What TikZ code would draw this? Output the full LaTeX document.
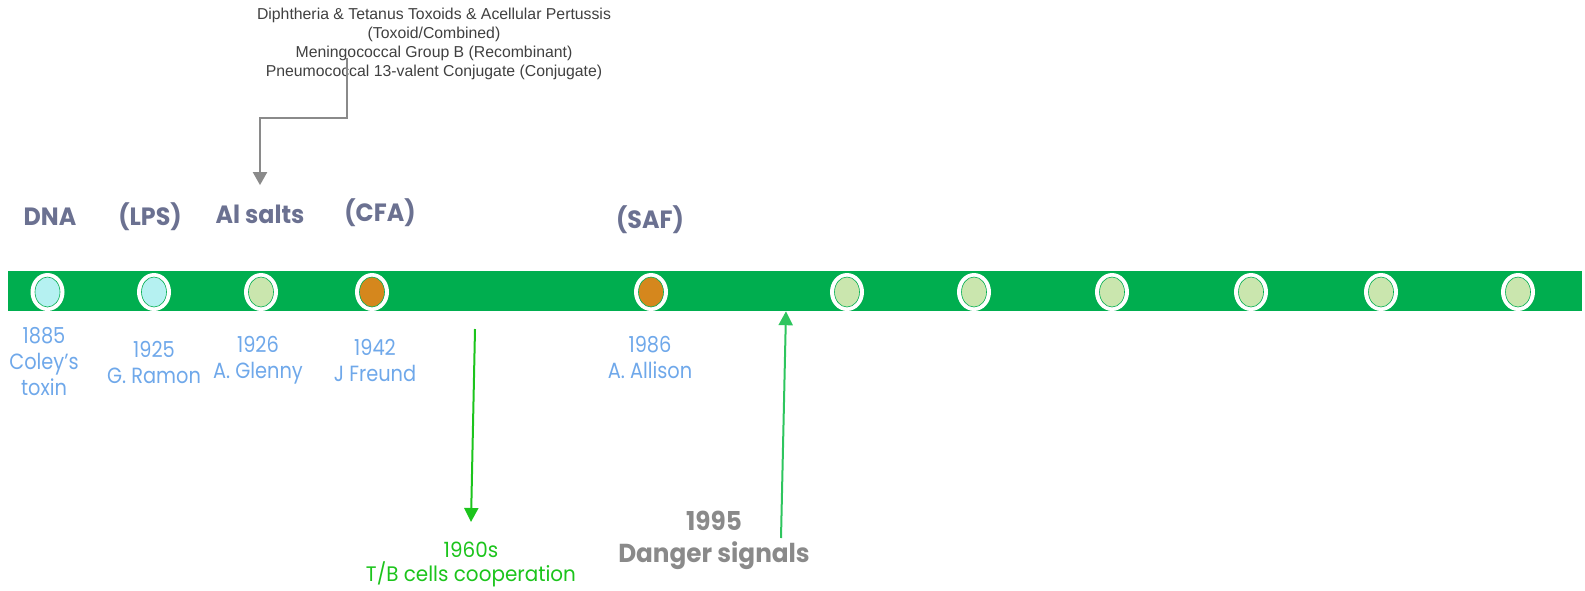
\documentclass[tikz,border=0pt]{standalone}
\usepackage{fontspec}
\setmainfont{Liberation Sans}
\newfontfamily\popfont[FakeStretch=0.88]{Poppins}
\newfontfamily\popwide[FakeStretch=0.95]{Poppins}
\usetikzlibrary{arrows.meta,shapes.geometric,positioning}
\definecolor{bandgreen}{RGB}{0,174,79}
\definecolor{slate}{RGB}{107,113,145}
\definecolor{skyblue}{RGB}{111,168,234}
\definecolor{cyanish}{RGB}{181,241,241}
\definecolor{leaf}{RGB}{202,230,174}
\definecolor{amber}{RGB}{213,135,29}
\definecolor{feedgray}{RGB}{138,138,138}
\definecolor{textgray}{RGB}{64,64,64}
\definecolor{limegreen}{RGB}{28,196,28}
\definecolor{mintgreen}{RGB}{46,197,94}

\begin{document}
\begin{tikzpicture}[
    x=1pt, y=-1pt,
    band/.style={rectangle, fill=bandgreen, minimum width=1574pt, minimum height=40pt, inner sep=0pt},
    ring/.style={ellipse, fill=white, minimum width=34pt, minimum height=38pt, inner sep=0pt},
    dot/.style={ellipse, draw=bandgreen, line width=0.6pt, minimum width=25pt, minimum height=30pt, inner sep=0pt},
    adjuvant/.style={font=\popwide\bfseries\fontsize{25}{30}\selectfont, text=slate},
    pioneer/.style={font=\popfont\fontsize{22}{26}\selectfont, text=skyblue, align=center},
    vaccines/.style={font=\fontsize{15.8}{19}\selectfont, text=textgray, align=center},
    feed/.style={draw=feedgray, line width=2pt, -{Triangle[width=14pt,length=13pt]}},
    tbarrow/.style={draw=limegreen, line width=2pt, -{Triangle[width=14pt,length=14pt]}},
    dangerarrow/.style={draw=mintgreen, line width=2pt, -{Triangle[width=14pt,length=14pt]}}
]
\useasboundingbox (0,0) rectangle (1585,590);

% bande verte et pastilles
\node[band] (band) at (795,291) {};
\foreach \x/\c [count=\i] in {47.5/cyanish,154/cyanish,261/leaf,372/amber,651/amber,847/leaf,974/leaf,1112/leaf,1251/leaf,1381/leaf,1518/leaf} {
    \node[ring] (r\i) at (\x,292) {};
    \node[dot, fill=\c] (d\i) at (r\i) {};
}

% adjuvants (au-dessus)
\node[adjuvant] (dna) at (50,217) {DNA};
\node[adjuvant] (lps) at (150,217) {(LPS)};
\node[adjuvant] (alsalts) at (260,214) {Al salts};
\node[adjuvant] (cfa) at (380,213) {(CFA)};
\node[adjuvant] (saf) at (650,220) {(SAF)};

% annees et auteurs (en dessous)
\node[pioneer] (coley) at (44,362) {1885\\Coley’s\\toxin};
\node[pioneer] (ramon) at (154,362) {1925\\G. Ramon};
\node[pioneer] (glenny) at (258,360) {1926\\A. Glenny};
\node[pioneer] (freund) at (375,360) {1942\\J Freund};
\node[pioneer] (allison) at (650,357) {1986\\A. Allison};

% vaccins
\node[vaccines] (vacc) at (434,44) {Diphtheria \& Tetanus Toxoids \& Acellular Pertussis\\(Toxoid/Combined)\\Meningococcal Group B (Recombinant)\\Pneumococcal 13-valent Conjugate (Conjugate)};
\coordinate (vstart) at (347,58);
\draw[feed] (vstart) -- (347,118) -| ([yshift=16pt]alsalts.north);

% 1960s
\node[font=\popwide\fontsize{21}{24}\selectfont, text=limegreen, align=center] (tbcells) at (471,564) {1960s\\T/B cells cooperation};
\coordinate (tbstart) at (475,329);
\draw[tbarrow] (tbstart) -- ([yshift=16pt]tbcells.north);

% 1995
\node[font=\popwide\bfseries\fontsize{26}{32}\selectfont, text=feedgray, align=center] (danger) at (714,540) {1995\\Danger signals};
\coordinate (dstart) at (781,538);
\draw[dangerarrow] (dstart) -- (786,0 |- band.south);

\end{tikzpicture}
\end{document}
